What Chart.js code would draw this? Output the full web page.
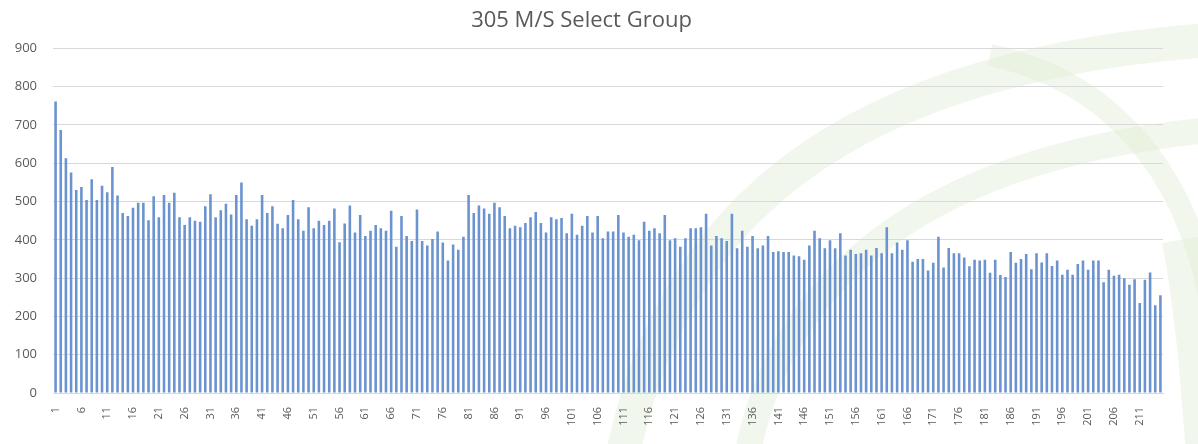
<!DOCTYPE html>
<html>
<head>
<meta charset="utf-8">
<title>305 M/S Select Group</title>
<script src="https://cdn.jsdelivr.net/npm/chart.js@4.4.1/dist/chart.umd.min.js"></script>
<style>
  html, body { margin: 0; padding: 0; background: #ffffff; }
  #wrap { width: 1198px; height: 444px; }
</style>
</head>
<body>
<div id="wrap"><canvas id="chart" width="1198" height="444"></canvas></div>
<script>
// -----------------------------
// Data
// -----------------------------
const chartTitle = "305 M/S Select Group";

const scores = [
  761, 687, 613, 576, 530, 538, 504, 558, 504, 541,
  524, 590, 516, 470, 462, 484, 497, 497, 451, 514,
  459, 517, 497, 523, 459, 439, 459, 450, 447, 488,
  519, 459, 477, 494, 466, 517, 550, 454, 437, 454,
  517, 470, 488, 442, 430, 465, 504, 454, 424, 485,
  430, 450, 439, 450, 482, 394, 443, 490, 419, 465,
  410, 424, 439, 430, 424, 476, 382, 462, 410, 397,
  479, 397, 385, 402, 422, 393, 346, 388, 374, 408,
  517, 470, 490, 482, 468, 497, 485, 462, 430, 437,
  433, 444, 459, 473, 444, 419, 459, 454, 457, 417,
  468, 413, 437, 462, 419, 462, 404, 422, 422, 465,
  419, 408, 413, 399, 447, 424, 430, 417, 465, 399,
  404, 382, 404, 430, 430, 433, 468, 385, 410, 404,
  397, 468, 378, 424, 382, 410, 378, 385, 410, 368,
  370, 368, 368, 359, 357, 348, 385, 424, 404, 378,
  399, 378, 417, 359, 374, 363, 365, 374, 359, 379,
  365, 433, 365, 393, 374, 399, 343, 350, 350, 320,
  340, 408, 328, 379, 365, 365, 354, 331, 348, 346,
  348, 314, 348, 308, 303, 368, 340, 350, 363, 323,
  365, 341, 365, 332, 346, 309, 322, 309, 337, 346,
  322, 346, 346, 289, 322, 306, 309, 300, 283, 297,
  235, 296, 315, 229, 255
];

// x categories are just 1..N, only every 5th one is labelled
const categories = scores.map((v, i) => String(i + 1));
const labelEvery = 5;

const yMin = 0;
const yMax = 900;
const yStep = 100;


// -----------------------------
// Faint green swoosh in the background
// -----------------------------
const swoosh = {
  id: "swoosh",
  beforeDraw(chart) {
    const ctx = chart.ctx;
    ctx.save();
    ctx.strokeStyle = "rgba(222, 234, 208, 0.38)";
    ctx.lineCap = "butt";

    ctx.lineWidth = 34;
    ctx.beginPath();
    ctx.moveTo(620, 470);
    ctx.bezierCurveTo(660, 250, 800, 70, 1210, 40);
    ctx.stroke();

    ctx.lineWidth = 26;
    ctx.beginPath();
    ctx.moveTo(745, 470);
    ctx.bezierCurveTo(770, 300, 900, 160, 1210, 130);
    ctx.stroke();

    ctx.lineWidth = 22;
    ctx.beginPath();
    ctx.moveTo(990, 55);
    ctx.bezierCurveTo(1110, 80, 1185, 170, 1210, 300);
    ctx.stroke();

    ctx.lineWidth = 36;
    ctx.beginPath();
    ctx.moveTo(1180, 240);
    ctx.bezierCurveTo(1195, 320, 1200, 400, 1205, 470);
    ctx.stroke();

    ctx.restore();
  }
};


// -----------------------------
// Chart
// -----------------------------
const textColor = "#595959";
const gridColor = "#d9d9d9";

new Chart(document.getElementById("chart").getContext("2d"), {

  type: "bar",

  data: {
    labels: categories,
    datasets: [{
      data: scores,
      backgroundColor: "#6a93d0",
      barPercentage: 0.5,
      categoryPercentage: 1.0
    }]
  },

  options: {
    responsive: false,
    animation: false,
    devicePixelRatio: 1,
    layout: {
      padding: { left: 0, right: 35, top: 0, bottom: 0 }
    },
    plugins: {
      legend: { display: false },
      tooltip: { enabled: false },
      title: {
        display: true,
        text: chartTitle,
        color: textColor,
        font: { family: "'Open Sans', sans-serif", size: 22, weight: "normal" },
        padding: { top: 8, bottom: 14 }
      }
    },
    scales: {
      x: {
        grid: { display: false },
        border: { display: true, color: gridColor },
        ticks: {
          autoSkip: false,
          maxRotation: 90,
          minRotation: 90,
          padding: 6,
          color: textColor,
          font: { family: "'Open Sans', sans-serif", size: 11 },
          callback: (v, i) => (i % labelEvery === 0 ? categories[i] : "")
        },
        afterFit: s => { s.height = 51; }
      },
      y: {
        min: yMin,
        max: yMax,
        grid: { color: gridColor, drawTicks: false },
        border: { display: false },
        ticks: {
          stepSize: yStep,
          padding: 16,
          color: textColor,
          font: { family: "'Open Sans', sans-serif", size: 13 }
        },
        afterFit: s => { s.width = 53; }
      }
    }
  },

  plugins: [swoosh]

});
</script>
</body>
</html>
